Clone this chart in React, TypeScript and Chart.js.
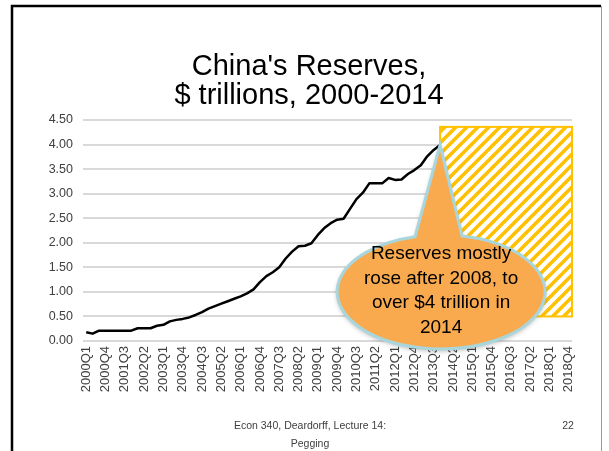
import React, { useEffect, useRef } from "react";
import { Chart, registerables } from "chart.js";

Chart.register(...registerables);

const FIRST_YEAR = 2000;
const LAST_YEAR = 2018;
const QUARTERS: string[] = [];
for (let y = FIRST_YEAR; y <= LAST_YEAR; y++) {
  for (let q = 1; q <= 4; q++) QUARTERS.push(`${y}Q${q}`);
}
const LABEL_EVERY = 3;

// China's reserves, $ trillions, 2000Q1 .. 2013Q4
const RESERVES = [
  0.18, 0.15, 0.21, 0.21, 0.21, 0.21, 0.21, 0.21, 0.26, 0.26,
  0.26, 0.31, 0.33, 0.4, 0.43, 0.45, 0.48, 0.53, 0.59, 0.66,
  0.71, 0.76, 0.81, 0.86, 0.91, 0.97, 1.05, 1.2, 1.32, 1.4,
  1.5, 1.68, 1.82, 1.93, 1.94, 1.99, 2.16, 2.3, 2.4, 2.47,
  2.49, 2.69, 2.89, 3.02, 3.21, 3.21, 3.21, 3.32, 3.28, 3.29,
  3.4, 3.48, 3.58, 3.76, 3.89, 3.99,
];

const Y_MIN = 0;
const Y_MAX = 4.5;
const Y_STEP = 0.5;

const TITLE_LINES = ["China's Reserves,", "$ trillions, 2000-2014"];
const CALLOUT_LINES = ["Reserves mostly", "rose after 2008, to", "over $4 trillion in", "2014"];
const FOOTER_LINES = ["Econ 340, Deardorff, Lecture 14:", "Pegging"];
const PAGE_NUMBER = "22";

// hatched "future" box, in data terms
const HATCH_FROM_INDEX = 55;
const HATCH_TOP = 4.36;
const HATCH_BOTTOM = 0.5;

const FONT = '"Liberation Sans", Arial, Helvetica, sans-serif';

function makeHatch(ctx: CanvasRenderingContext2D) {
  const p = 11;
  const c = document.createElement("canvas");
  c.width = p;
  c.height = p;
  const g = c.getContext("2d")!;
  g.fillStyle = "#ffffff";
  g.fillRect(0, 0, p, p);
  g.strokeStyle = "#FFC000";
  g.lineWidth = 3.6;
  for (const o of [-p, 0, p]) {
    g.beginPath();
    g.moveTo(o - 2, p + 2);
    g.lineTo(o + p + 2, -2);
    g.stroke();
  }
  return ctx.createPattern(c, "repeat")!;
}

const slidePlugin = {
  id: "slide",
  beforeDraw(chart: any) {
    const ctx = chart.ctx as CanvasRenderingContext2D;
    ctx.save();
    ctx.fillStyle = "#ffffff";
    ctx.fillRect(0, 0, chart.width, chart.height);
    // slide frame
    ctx.strokeStyle = "#000000";
    ctx.lineWidth = 2.5;
    ctx.beginPath();
    ctx.moveTo(12, 451);
    ctx.lineTo(12, 6);
    ctx.lineTo(601, 6);
    ctx.stroke();
    ctx.strokeStyle = "#9a9a9a";
    ctx.lineWidth = 1;
    ctx.beginPath();
    ctx.moveTo(601.5, 6);
    ctx.lineTo(601.5, 451);
    ctx.stroke();
    // title
    ctx.fillStyle = "#000000";
    ctx.textAlign = "center";
    ctx.textBaseline = "alphabetic";
    ctx.font = `29px ${FONT}`;
    ctx.fillText(TITLE_LINES[0], 309, 75);
    ctx.fillText(TITLE_LINES[1], 309, 104);
    // footer
    ctx.fillStyle = "#404040";
    ctx.font = `10.5px ${FONT}`;
    ctx.fillText(FOOTER_LINES[0], 310, 429);
    ctx.fillText(FOOTER_LINES[1], 310, 447);
    ctx.fillText(PAGE_NUMBER, 568, 429);
    ctx.restore();
  },
  afterDatasetsDraw(chart: any) {
    const ctx = chart.ctx as CanvasRenderingContext2D;
    const xs = chart.scales.x;
    const ys = chart.scales.y;
    const area = chart.chartArea;
    ctx.save();
    // hatched box
    const x0 = xs.getPixelForValue(HATCH_FROM_INDEX);
    const x1 = area.right;
    const y0 = ys.getPixelForValue(HATCH_TOP);
    const y1 = ys.getPixelForValue(HATCH_BOTTOM);
    ctx.fillStyle = makeHatch(ctx);
    ctx.fillRect(x0, y0, x1 - x0, y1 - y0);
    ctx.strokeStyle = "#FFC000";
    ctx.lineWidth = 2;
    ctx.strokeRect(x0, y0, x1 - x0, y1 - y0);

    // callout pointing at last data point
    const last = RESERVES.length - 1;
    const tipX = xs.getPixelForValue(last);
    const tipY = ys.getPixelForValue(RESERVES[last]);
    const cx = tipX + 1;
    const cy = ys.getPixelForValue(1.0);
    const rx = 104;
    const ry = 57;
    const baseL = -26;
    const baseR = 21;
    const tL = Math.atan2(-Math.sqrt(1 - (baseL / rx) ** 2), baseL / rx);
    const tR = Math.atan2(-Math.sqrt(1 - (baseR / rx) ** 2), baseR / rx);
    ctx.beginPath();
    ctx.moveTo(tipX, tipY);
    ctx.lineTo(cx + rx * Math.cos(tR), cy + ry * Math.sin(tR));
    ctx.ellipse(cx, cy, rx, ry, 0, tR, tL + Math.PI * 2, false);
    ctx.closePath();
    ctx.shadowColor = "rgba(0,0,0,0.3)";
    ctx.shadowBlur = 5;
    ctx.shadowOffsetY = 2;
    ctx.fillStyle = "#F9AA4E";
    ctx.fill();
    ctx.shadowColor = "transparent";
    ctx.strokeStyle = "#A9D6DC";
    ctx.lineWidth = 3;
    ctx.stroke();

    ctx.fillStyle = "#000000";
    ctx.font = `19px ${FONT}`;
    ctx.textAlign = "center";
    ctx.textBaseline = "middle";
    CALLOUT_LINES.forEach((s, i) => {
      ctx.fillText(s, cx, cy - 38 + i * 24.5);
    });
    ctx.restore();
  },
};

export default function App() {
  const ref = useRef<HTMLCanvasElement | null>(null);
  useEffect(() => {
    const canvas = ref.current!;
    const chart = new Chart(canvas, {
      type: "line",
      data: {
        labels: QUARTERS,
        datasets: [
          {
            data: RESERVES,
            borderColor: "#000000",
            borderWidth: 2.5,
            pointRadius: 0,
            tension: 0,
            fill: false,
            borderJoinStyle: "round",
          },
        ],
      },
      options: {
        animation: false,
        responsive: false,
        devicePixelRatio: 1,
        layout: { padding: { top: 120, right: 37, bottom: 0, left: 0 } },
        plugins: { legend: { display: false }, tooltip: { enabled: false }, title: { display: false } },
        scales: {
          x: {
            type: "category",
            offset: true,
            grid: { display: false, drawTicks: false },
            border: { display: false },
            ticks: {
              autoSkip: false,
              maxRotation: 90,
              minRotation: 90,
              padding: 5,
              color: "#404040",
              font: { family: FONT, size: 13 },
              callback: (_v: any, i: number) => (i % LABEL_EVERY === 0 ? QUARTERS[i] : ""),
            },
            afterFit: (s: any) => {
              s.height = 110;
            },
          },
          y: {
            min: Y_MIN,
            max: Y_MAX,
            grid: { color: "#D9D9D9", lineWidth: 2, drawTicks: false },
            border: { display: false },
            ticks: {
              stepSize: Y_STEP,
              padding: 10,
              color: "#404040",
              font: { family: FONT, size: 12.5 },
              callback: (v: any) => Number(v).toFixed(2),
            },
            afterFit: (s: any) => {
              s.width = 83;
            },
          },
        },
      },
      plugins: [slidePlugin],
    });
    return () => chart.destroy();
  }, []);
  return (
    <div style={{ position: "absolute", left: 0, top: 0, width: 609, height: 451 }}>
      <canvas ref={ref} width={609} height={451} style={{ display: "block", width: 609, height: 451 }} />
    </div>
  );
}
